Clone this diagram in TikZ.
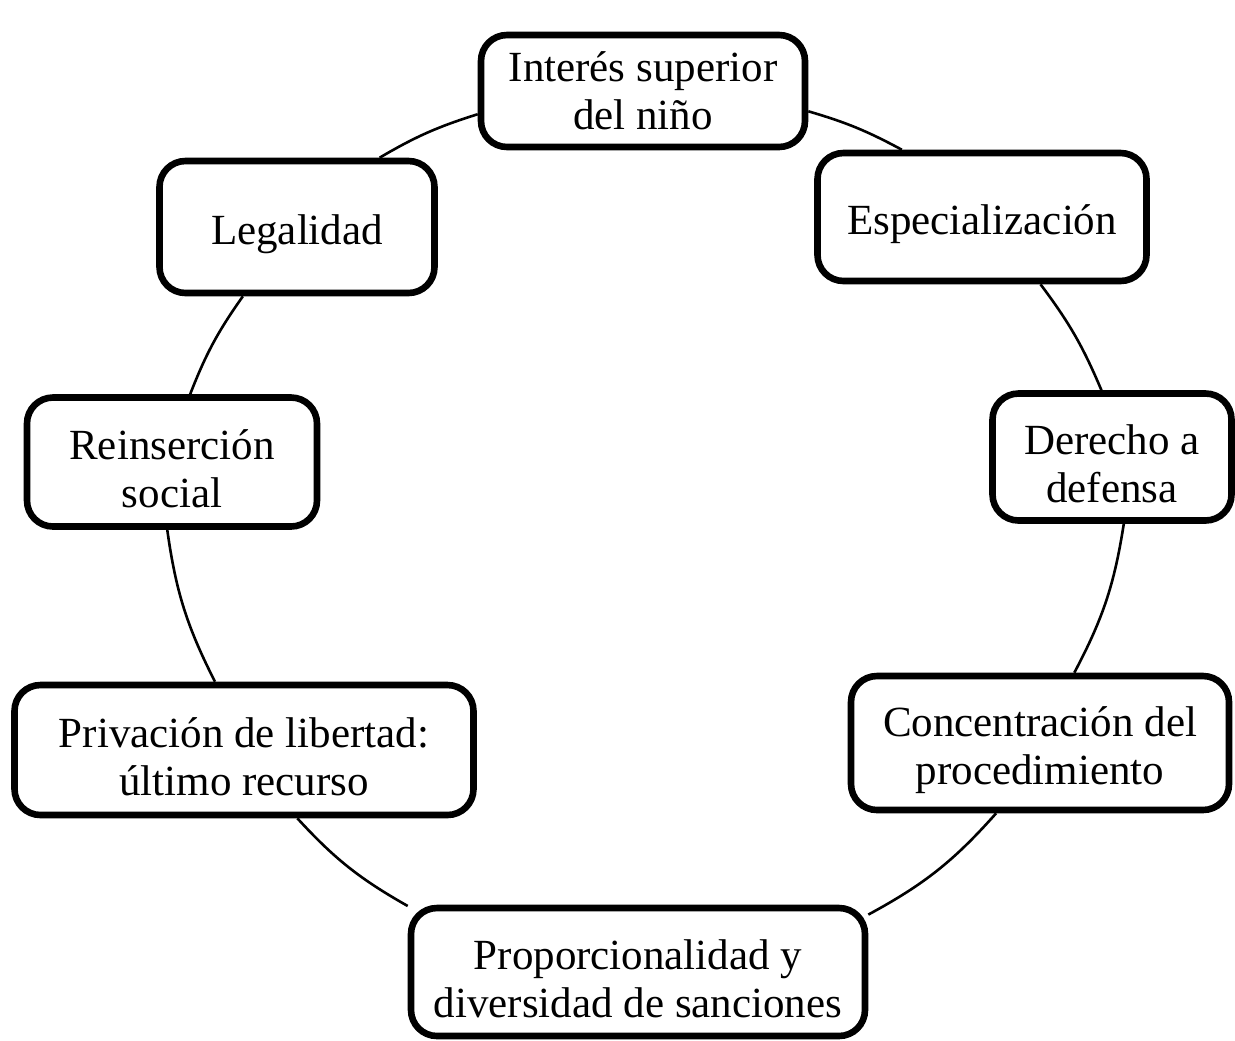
\documentclass[tikz,border=0pt]{standalone}
\usepackage{fontspec}
\setmainfont{Liberation Serif}
\begin{document}
\begin{tikzpicture}[x=0.5pt,y=0.5pt]
\tikzset{
  box/.style={draw, line width=3.3pt, rounded corners=13pt, fill=white, align=center,
    inner sep=0pt, font=\fontsize{21.5}{24}\selectfont},
  onebox/.style={box, execute at begin node={\rule{0pt}{22.5pt}}},
  twobox/.style={box, execute at begin node={\rule{0pt}{46pt}}},
  link/.style={line width=1.3pt}
}
\useasboundingbox (0,0) rectangle (1235,-1040);
\node[box, minimum width=162pt, minimum height=56pt] (int) at (643,-91) {Interés superior\\del niño};
\node[onebox, minimum width=164.5pt, minimum height=64pt] (esp) at (982,-217) {Especialización};
\node[twobox, minimum width=119.5pt, minimum height=63.5pt] (der) at (1112,-457) {Derecho a\\defensa};
\node[twobox, minimum width=189pt, minimum height=67pt] (con) at (1040,-743) {Concentración del\\procedimiento};
\node[twobox, minimum width=227pt, minimum height=64pt] (pro) at (638,-972) {Proporcionalidad y\\diversidad de sanciones};
\node[twobox, minimum width=229.5pt, minimum height=65pt] (pri) at (244,-750) {Privación de libertad:\\último recurso};
\node[twobox, minimum width=145pt, minimum height=64.5pt] (rei) at (172,-462) {Reinserción\\social};
\node[onebox, minimum width=137.5pt, minimum height=66pt] (leg) at (297,-227) {Legalidad};

\draw[link] (int.-7.3) to[bend left=6] (esp.140.2);
\draw[link] (esp.-49.5) to[bend left=7] (der.99.7);
\draw[link] (der.-80.8) to[bend left=9.5] (con.64.8);
\draw[link] (con.-122.7) to[bend left=10] (pro.14.4);
\draw[link] (pro.164.5) to[bend left=9] (pri.-52.7);
\draw[link] (pri.113.1) to[bend left=9.5] (rei.-94.2);
\draw[link] (rei.75) to[bend left=7] (leg.-128.5);
\draw[link] (leg.40.4) to[bend left=6.5] (int.-172.5);
\end{tikzpicture}
\end{document}
